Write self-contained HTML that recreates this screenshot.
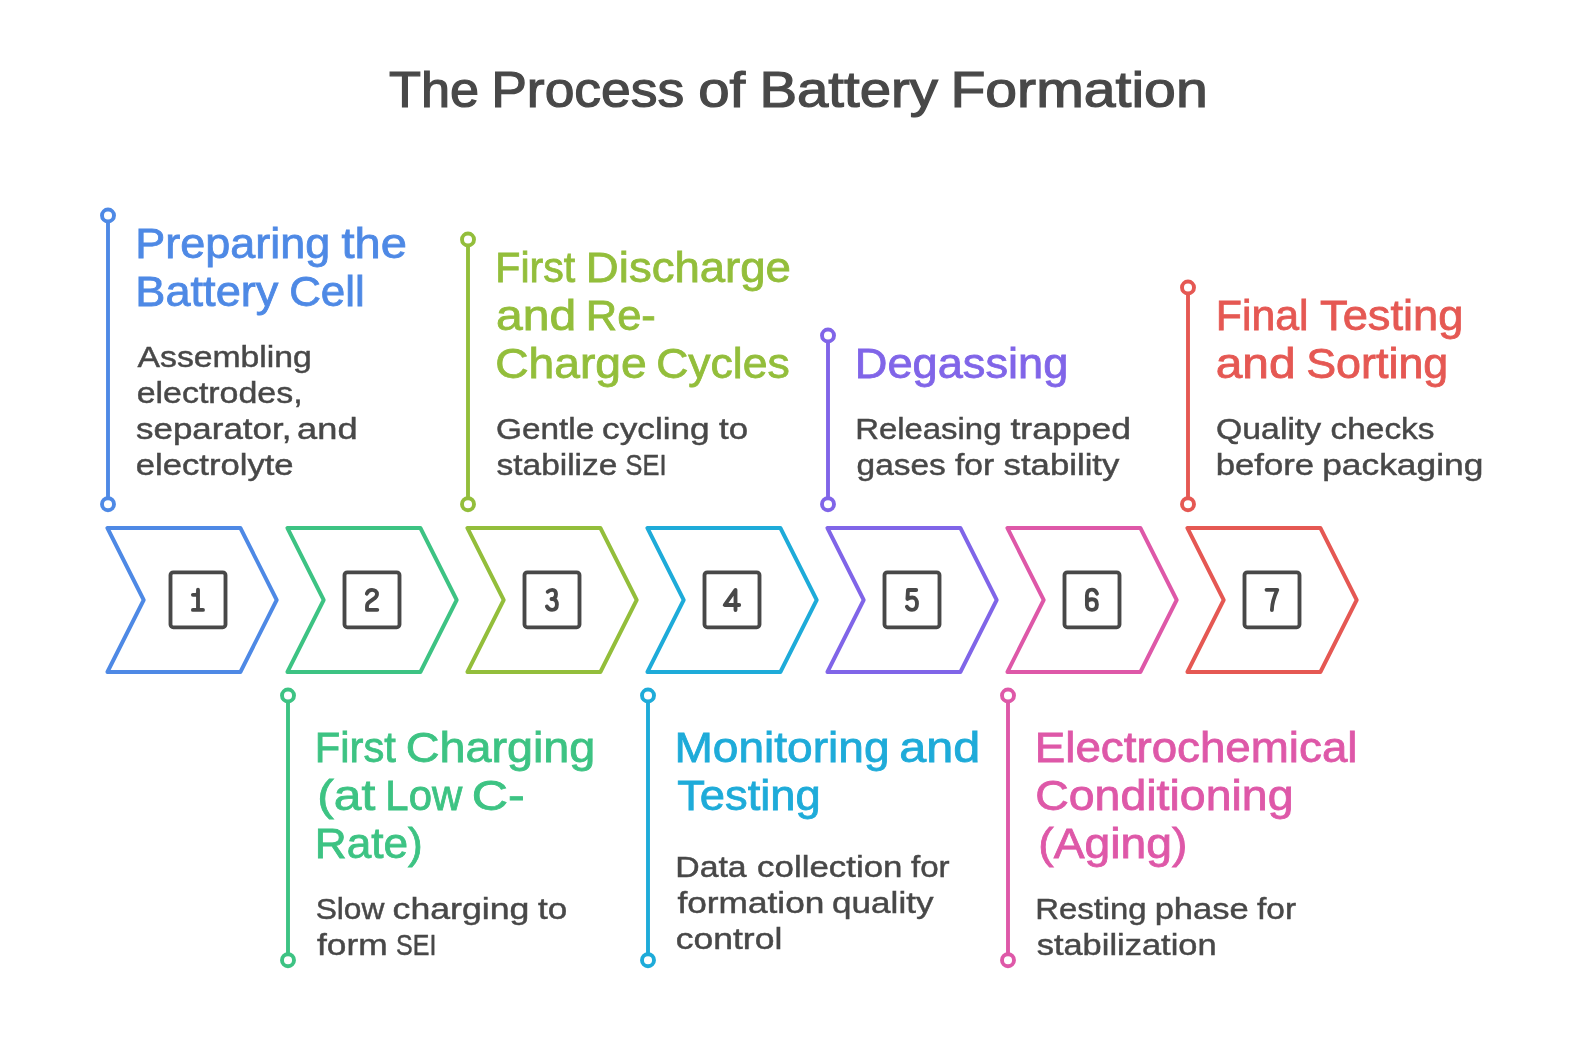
<!DOCTYPE html>
<html><head><meta charset="utf-8"><title>The Process of Battery Formation</title><style>
html,body{margin:0;padding:0;background:#fff;}
body{width:1596px;height:1040px;overflow:hidden;}
svg{display:block;will-change:transform;font-family:"Liberation Sans", sans-serif;}
</style></head><body>
<svg width="1596" height="1040" viewBox="0 0 1596 1040">
<rect width="1596" height="1040" fill="#fff"/>
<text x="389.00" y="106.70" font-size="50.6" fill="#484848" stroke="#484848" stroke-width="1.2" textLength="90.07" lengthAdjust="spacingAndGlyphs">The</text>
<text x="491.21" y="106.70" font-size="50.6" fill="#484848" stroke="#484848" stroke-width="1.2" textLength="193.07" lengthAdjust="spacingAndGlyphs">Process</text>
<text x="698.15" y="106.70" font-size="50.6" fill="#484848" stroke="#484848" stroke-width="1.2" textLength="47.06" lengthAdjust="spacingAndGlyphs">of</text>
<text x="759.40" y="106.70" font-size="50.6" fill="#484848" stroke="#484848" stroke-width="1.2" textLength="178.55" lengthAdjust="spacingAndGlyphs">Battery</text>
<text x="950.45" y="106.70" font-size="50.6" fill="#484848" stroke="#484848" stroke-width="1.2" textLength="257.23" lengthAdjust="spacingAndGlyphs">Formation</text>
<text x="135.32" y="258.30" font-size="41.8" fill="#4e89e5" stroke="#4e89e5" stroke-width="0.8" textLength="194.94" lengthAdjust="spacingAndGlyphs">Preparing</text>
<text x="341.48" y="258.30" font-size="41.8" fill="#4e89e5" stroke="#4e89e5" stroke-width="0.8" textLength="65.40" lengthAdjust="spacingAndGlyphs">the</text>
<text x="135.32" y="306.30" font-size="41.8" fill="#4e89e5" stroke="#4e89e5" stroke-width="0.8" textLength="143.08" lengthAdjust="spacingAndGlyphs">Battery</text>
<text x="289.18" y="306.30" font-size="41.8" fill="#4e89e5" stroke="#4e89e5" stroke-width="0.8" textLength="75.58" lengthAdjust="spacingAndGlyphs">Cell</text>
<text x="137.57" y="367.10" font-size="29" fill="#484848" stroke="#484848" stroke-width="0.45" textLength="174.31" lengthAdjust="spacingAndGlyphs">Assembling</text>
<text x="136.67" y="403.10" font-size="29" fill="#484848" stroke="#484848" stroke-width="0.45" textLength="165.93" lengthAdjust="spacingAndGlyphs">electrodes,</text>
<text x="136.08" y="439.10" font-size="29" fill="#484848" stroke="#484848" stroke-width="0.45" textLength="155.28" lengthAdjust="spacingAndGlyphs">separator,</text>
<text x="297.14" y="439.10" font-size="29" fill="#484848" stroke="#484848" stroke-width="0.45" textLength="60.42" lengthAdjust="spacingAndGlyphs">and</text>
<text x="135.77" y="475.10" font-size="29" fill="#484848" stroke="#484848" stroke-width="0.45" textLength="157.83" lengthAdjust="spacingAndGlyphs">electrolyte</text>
<text x="495.28" y="282.30" font-size="41.8" fill="#93be3b" stroke="#93be3b" stroke-width="0.8" textLength="79.92" lengthAdjust="spacingAndGlyphs">First</text>
<text x="585.86" y="282.30" font-size="41.8" fill="#93be3b" stroke="#93be3b" stroke-width="0.8" textLength="205.10" lengthAdjust="spacingAndGlyphs">Discharge</text>
<text x="496.14" y="330.30" font-size="41.8" fill="#93be3b" stroke="#93be3b" stroke-width="0.8" textLength="80.16" lengthAdjust="spacingAndGlyphs">and</text>
<text x="585.82" y="330.30" font-size="41.8" fill="#93be3b" stroke="#93be3b" stroke-width="0.8" textLength="70.04" lengthAdjust="spacingAndGlyphs">Re-</text>
<text x="495.24" y="378.30" font-size="41.8" fill="#93be3b" stroke="#93be3b" stroke-width="0.8" textLength="151.50" lengthAdjust="spacingAndGlyphs">Charge</text>
<text x="656.20" y="378.30" font-size="41.8" fill="#93be3b" stroke="#93be3b" stroke-width="0.8" textLength="133.56" lengthAdjust="spacingAndGlyphs">Cycles</text>
<text x="496.08" y="439.10" font-size="29" fill="#484848" stroke="#484848" stroke-width="0.45" textLength="98.14" lengthAdjust="spacingAndGlyphs">Gentle</text>
<text x="602.10" y="439.10" font-size="29" fill="#484848" stroke="#484848" stroke-width="0.45" textLength="107.62" lengthAdjust="spacingAndGlyphs">cycling</text>
<text x="719.02" y="439.10" font-size="29" fill="#484848" stroke="#484848" stroke-width="0.45" textLength="29.06" lengthAdjust="spacingAndGlyphs">to</text>
<text x="496.56" y="475.10" font-size="29" fill="#484848" stroke="#484848" stroke-width="0.45" textLength="120.84" lengthAdjust="spacingAndGlyphs">stabilize</text>
<text x="625.62" y="475.10" font-size="29" fill="#484848" stroke="#484848" stroke-width="0.45" textLength="40.86" lengthAdjust="spacingAndGlyphs">SEI</text>
<text x="854.78" y="378.30" font-size="41.8" fill="#8065e8" stroke="#8065e8" stroke-width="0.8" textLength="213.56" lengthAdjust="spacingAndGlyphs">Degassing</text>
<text x="855.26" y="439.10" font-size="29" fill="#484848" stroke="#484848" stroke-width="0.45" textLength="146.18" lengthAdjust="spacingAndGlyphs">Releasing</text>
<text x="1010.48" y="439.10" font-size="29" fill="#484848" stroke="#484848" stroke-width="0.45" textLength="120.42" lengthAdjust="spacingAndGlyphs">trapped</text>
<text x="856.58" y="475.10" font-size="29" fill="#484848" stroke="#484848" stroke-width="0.45" textLength="89.16" lengthAdjust="spacingAndGlyphs">gases</text>
<text x="955.00" y="475.10" font-size="29" fill="#484848" stroke="#484848" stroke-width="0.45" textLength="39.24" lengthAdjust="spacingAndGlyphs">for</text>
<text x="1003.56" y="475.10" font-size="29" fill="#484848" stroke="#484848" stroke-width="0.45" textLength="115.82" lengthAdjust="spacingAndGlyphs">stability</text>
<text x="1215.80" y="330.30" font-size="41.8" fill="#e55853" stroke="#e55853" stroke-width="0.8" textLength="92.86" lengthAdjust="spacingAndGlyphs">Final</text>
<text x="1320.00" y="330.30" font-size="41.8" fill="#e55853" stroke="#e55853" stroke-width="0.8" textLength="143.44" lengthAdjust="spacingAndGlyphs">Testing</text>
<text x="1215.68" y="378.30" font-size="41.8" fill="#e55853" stroke="#e55853" stroke-width="0.8" textLength="79.88" lengthAdjust="spacingAndGlyphs">and</text>
<text x="1306.18" y="378.30" font-size="41.8" fill="#e55853" stroke="#e55853" stroke-width="0.8" textLength="142.16" lengthAdjust="spacingAndGlyphs">Sorting</text>
<text x="1216.10" y="439.10" font-size="29" fill="#484848" stroke="#484848" stroke-width="0.45" textLength="105.04" lengthAdjust="spacingAndGlyphs">Quality</text>
<text x="1330.56" y="439.10" font-size="29" fill="#484848" stroke="#484848" stroke-width="0.45" textLength="103.96" lengthAdjust="spacingAndGlyphs">checks</text>
<text x="1215.74" y="475.10" font-size="29" fill="#484848" stroke="#484848" stroke-width="0.45" textLength="98.38" lengthAdjust="spacingAndGlyphs">before</text>
<text x="1322.20" y="475.10" font-size="29" fill="#484848" stroke="#484848" stroke-width="0.45" textLength="161.16" lengthAdjust="spacingAndGlyphs">packaging</text>
<text x="314.84" y="762.10" font-size="41.8" fill="#3dc383" stroke="#3dc383" stroke-width="0.8" textLength="81.00" lengthAdjust="spacingAndGlyphs">First</text>
<text x="405.72" y="762.10" font-size="41.8" fill="#3dc383" stroke="#3dc383" stroke-width="0.8" textLength="189.62" lengthAdjust="spacingAndGlyphs">Charging</text>
<text x="317.24" y="810.10" font-size="41.8" fill="#3dc383" stroke="#3dc383" stroke-width="0.8" textLength="58.00" lengthAdjust="spacingAndGlyphs">(at</text>
<text x="385.36" y="810.10" font-size="41.8" fill="#3dc383" stroke="#3dc383" stroke-width="0.8" textLength="76.82" lengthAdjust="spacingAndGlyphs">Low</text>
<text x="471.70" y="810.10" font-size="41.8" fill="#3dc383" stroke="#3dc383" stroke-width="0.8" textLength="53.00" lengthAdjust="spacingAndGlyphs">C-</text>
<text x="314.78" y="858.10" font-size="41.8" fill="#3dc383" stroke="#3dc383" stroke-width="0.8" textLength="107.92" lengthAdjust="spacingAndGlyphs">Rate)</text>
<text x="315.66" y="918.90" font-size="29" fill="#484848" stroke="#484848" stroke-width="0.45" textLength="68.68" lengthAdjust="spacingAndGlyphs">Slow</text>
<text x="392.62" y="918.90" font-size="29" fill="#484848" stroke="#484848" stroke-width="0.45" textLength="136.82" lengthAdjust="spacingAndGlyphs">charging</text>
<text x="538.04" y="918.90" font-size="29" fill="#484848" stroke="#484848" stroke-width="0.45" textLength="29.24" lengthAdjust="spacingAndGlyphs">to</text>
<text x="316.98" y="954.90" font-size="29" fill="#484848" stroke="#484848" stroke-width="0.45" textLength="70.60" lengthAdjust="spacingAndGlyphs">form</text>
<text x="396.06" y="954.90" font-size="29" fill="#484848" stroke="#484848" stroke-width="0.45" textLength="40.32" lengthAdjust="spacingAndGlyphs">SEI</text>
<text x="674.40" y="762.10" font-size="41.8" fill="#1eabd9" stroke="#1eabd9" stroke-width="0.8" textLength="215.24" lengthAdjust="spacingAndGlyphs">Monitoring</text>
<text x="899.16" y="762.10" font-size="41.8" fill="#1eabd9" stroke="#1eabd9" stroke-width="0.8" textLength="81.06" lengthAdjust="spacingAndGlyphs">and</text>
<text x="677.20" y="810.10" font-size="41.8" fill="#1eabd9" stroke="#1eabd9" stroke-width="0.8" textLength="143.60" lengthAdjust="spacingAndGlyphs">Testing</text>
<text x="675.26" y="877.00" font-size="29" fill="#484848" stroke="#484848" stroke-width="0.45" textLength="71.36" lengthAdjust="spacingAndGlyphs">Data</text>
<text x="757.08" y="877.00" font-size="29" fill="#484848" stroke="#484848" stroke-width="0.45" textLength="145.38" lengthAdjust="spacingAndGlyphs">collection</text>
<text x="910.98" y="877.00" font-size="29" fill="#484848" stroke="#484848" stroke-width="0.45" textLength="38.70" lengthAdjust="spacingAndGlyphs">for</text>
<text x="677.44" y="913.00" font-size="29" fill="#484848" stroke="#484848" stroke-width="0.45" textLength="146.92" lengthAdjust="spacingAndGlyphs">formation</text>
<text x="832.12" y="913.00" font-size="29" fill="#484848" stroke="#484848" stroke-width="0.45" textLength="101.38" lengthAdjust="spacingAndGlyphs">quality</text>
<text x="675.77" y="949.00" font-size="29" fill="#484848" stroke="#484848" stroke-width="0.45" textLength="106.53" lengthAdjust="spacingAndGlyphs">control</text>
<text x="1034.78" y="762.10" font-size="41.8" fill="#de58a8" stroke="#de58a8" stroke-width="0.8" textLength="322.72" lengthAdjust="spacingAndGlyphs">Electrochemical</text>
<text x="1035.20" y="810.10" font-size="41.8" fill="#de58a8" stroke="#de58a8" stroke-width="0.8" textLength="258.35" lengthAdjust="spacingAndGlyphs">Conditioning</text>
<text x="1038.25" y="858.10" font-size="41.8" fill="#de58a8" stroke="#de58a8" stroke-width="0.8" textLength="149.10" lengthAdjust="spacingAndGlyphs">(Aging)</text>
<text x="1035.24" y="918.90" font-size="29" fill="#484848" stroke="#484848" stroke-width="0.45" textLength="111.40" lengthAdjust="spacingAndGlyphs">Resting</text>
<text x="1154.68" y="918.90" font-size="29" fill="#484848" stroke="#484848" stroke-width="0.45" textLength="94.02" lengthAdjust="spacingAndGlyphs">phase</text>
<text x="1257.02" y="918.90" font-size="29" fill="#484848" stroke="#484848" stroke-width="0.45" textLength="39.06" lengthAdjust="spacingAndGlyphs">for</text>
<text x="1036.67" y="954.90" font-size="29" fill="#484848" stroke="#484848" stroke-width="0.45" textLength="179.98" lengthAdjust="spacingAndGlyphs">stabilization</text>
<line x1="108" y1="215.5" x2="108" y2="504.2" stroke="#4e89e5" stroke-width="3.9"/>
<circle cx="108" cy="215.5" r="6" fill="#fff" stroke="#4e89e5" stroke-width="3.9"/>
<circle cx="108" cy="504.2" r="6" fill="#fff" stroke="#4e89e5" stroke-width="3.9"/>
<line x1="468" y1="239.5" x2="468" y2="504.2" stroke="#93be3b" stroke-width="3.9"/>
<circle cx="468" cy="239.5" r="6" fill="#fff" stroke="#93be3b" stroke-width="3.9"/>
<circle cx="468" cy="504.2" r="6" fill="#fff" stroke="#93be3b" stroke-width="3.9"/>
<line x1="828" y1="335.5" x2="828" y2="504.2" stroke="#8065e8" stroke-width="3.9"/>
<circle cx="828" cy="335.5" r="6" fill="#fff" stroke="#8065e8" stroke-width="3.9"/>
<circle cx="828" cy="504.2" r="6" fill="#fff" stroke="#8065e8" stroke-width="3.9"/>
<line x1="1188" y1="287.5" x2="1188" y2="504.2" stroke="#e55853" stroke-width="3.9"/>
<circle cx="1188" cy="287.5" r="6" fill="#fff" stroke="#e55853" stroke-width="3.9"/>
<circle cx="1188" cy="504.2" r="6" fill="#fff" stroke="#e55853" stroke-width="3.9"/>
<line x1="288" y1="695.5" x2="288" y2="960.2" stroke="#3dc383" stroke-width="3.9"/>
<circle cx="288" cy="695.5" r="6" fill="#fff" stroke="#3dc383" stroke-width="3.9"/>
<circle cx="288" cy="960.2" r="6" fill="#fff" stroke="#3dc383" stroke-width="3.9"/>
<line x1="648" y1="695.5" x2="648" y2="960.2" stroke="#1eabd9" stroke-width="3.9"/>
<circle cx="648" cy="695.5" r="6" fill="#fff" stroke="#1eabd9" stroke-width="3.9"/>
<circle cx="648" cy="960.2" r="6" fill="#fff" stroke="#1eabd9" stroke-width="3.9"/>
<line x1="1008" y1="695.5" x2="1008" y2="960.2" stroke="#de58a8" stroke-width="3.9"/>
<circle cx="1008" cy="695.5" r="6" fill="#fff" stroke="#de58a8" stroke-width="3.9"/>
<circle cx="1008" cy="960.2" r="6" fill="#fff" stroke="#de58a8" stroke-width="3.9"/>
<path d="M107.4 528 L240.4 528 L276.7 600 L240.4 672 L107.4 672 L143.7 600 Z" fill="none" stroke="#4e89e5" stroke-width="3.9" stroke-linejoin="round"/>
<path d="M287.4 528 L420.4 528 L456.7 600 L420.4 672 L287.4 672 L323.7 600 Z" fill="none" stroke="#3dc383" stroke-width="3.9" stroke-linejoin="round"/>
<path d="M467.4 528 L600.4 528 L636.7 600 L600.4 672 L467.4 672 L503.7 600 Z" fill="none" stroke="#93be3b" stroke-width="3.9" stroke-linejoin="round"/>
<path d="M647.4 528 L780.4 528 L816.7 600 L780.4 672 L647.4 672 L683.7 600 Z" fill="none" stroke="#1eabd9" stroke-width="3.9" stroke-linejoin="round"/>
<path d="M827.4 528 L960.4 528 L996.7 600 L960.4 672 L827.4 672 L863.7 600 Z" fill="none" stroke="#8065e8" stroke-width="3.9" stroke-linejoin="round"/>
<path d="M1007.4 528 L1140.4 528 L1176.7 600 L1140.4 672 L1007.4 672 L1043.7 600 Z" fill="none" stroke="#de58a8" stroke-width="3.9" stroke-linejoin="round"/>
<path d="M1187.4 528 L1320.4 528 L1356.7 600 L1320.4 672 L1187.4 672 L1223.7 600 Z" fill="none" stroke="#e55853" stroke-width="3.9" stroke-linejoin="round"/>
<rect x="170.5" y="572.3" width="55" height="55" rx="2.8" fill="none" stroke="#484848" stroke-width="3.85"/>
<path transform="translate(198.0,600)" d="M-5.1 -5.2 H-2.6 C-1.2 -5.2 0 -6.2 0 -7.8 M0 -10.3 V9.9 M-5.1 9.9 H5" fill="none" stroke="#484848" stroke-width="3.85" stroke-linecap="round" stroke-linejoin="round"/>
<rect x="344.5" y="572.3" width="55" height="55" rx="2.8" fill="none" stroke="#484848" stroke-width="3.85"/>
<path transform="translate(372.0,600)" d="M-5.2 -6.3 C-4.3 -8.8 -2.3 -10.1 0 -10.1 C2.8 -10.1 5 -8.5 5 -5.8 C5 -3.5 3.5 -2.2 1 -0.6 L-2.5 1.8 C-4.3 3 -5 4.2 -5 6.2 V9.8 H5.3" fill="none" stroke="#484848" stroke-width="3.85" stroke-linecap="round" stroke-linejoin="round"/>
<rect x="524.5" y="572.3" width="55" height="55" rx="2.8" fill="none" stroke="#484848" stroke-width="3.85"/>
<path transform="translate(552.0,600)" d="M-4.3 -8.2 C-3 -9.6 -1.5 -10.2 0.3 -10.2 C2.8 -10.2 4 -8.5 4 -6 C4 -3 2.5 -1 -0.5 -1 H0.5 C3.5 -1 4.9 1.5 4.9 4.5 C4.9 8 3 9.8 0 9.8 C-2.3 9.8 -4 8.5 -5.1 6.5" fill="none" stroke="#484848" stroke-width="3.85" stroke-linecap="round" stroke-linejoin="round"/>
<rect x="704.5" y="572.3" width="55" height="55" rx="2.8" fill="none" stroke="#484848" stroke-width="3.85"/>
<path transform="translate(732.0,600)" d="M3.5 10 V-10.2 L-7.3 5 H7.2" fill="none" stroke="#484848" stroke-width="3.85" stroke-linecap="round" stroke-linejoin="round"/>
<rect x="884.5" y="572.3" width="55" height="55" rx="2.8" fill="none" stroke="#484848" stroke-width="3.85"/>
<path transform="translate(912.0,600)" d="M4.2 -10 H-4 L-4.6 -1 C-3.3 -2.1 -1.6 -2.5 0.2 -2.5 C3.2 -2.5 5 0 5 3.7 C5 7.5 3.2 9.8 0 9.8 C-2.2 9.8 -4 8.8 -5.1 6.8" fill="none" stroke="#484848" stroke-width="3.85" stroke-linecap="round" stroke-linejoin="round"/>
<rect x="1064.5" y="572.3" width="55" height="55" rx="2.8" fill="none" stroke="#484848" stroke-width="3.85"/>
<path transform="translate(1092.0,600)" d="M5 -6.3 C4 -9 2 -10.4 0 -10.4 C-3.5 -10.4 -5.1 -8 -5.1 -4.5 V5 C-5.1 8 -3 9.8 0 9.8 C3 9.8 4.9 8 4.9 4.5 C4.9 1 3 -0.8 0 -0.8 C-2.5 -0.8 -4.5 0.5 -5.1 2" fill="none" stroke="#484848" stroke-width="3.85" stroke-linecap="round" stroke-linejoin="round"/>
<rect x="1244.5" y="572.3" width="55" height="55" rx="2.8" fill="none" stroke="#484848" stroke-width="3.85"/>
<path transform="translate(1272.0,600)" d="M-5.5 -10.2 H5.3 C2 -3 0 2 -0.1 10" fill="none" stroke="#484848" stroke-width="3.85" stroke-linecap="round" stroke-linejoin="round"/>
</svg>
</body></html>
